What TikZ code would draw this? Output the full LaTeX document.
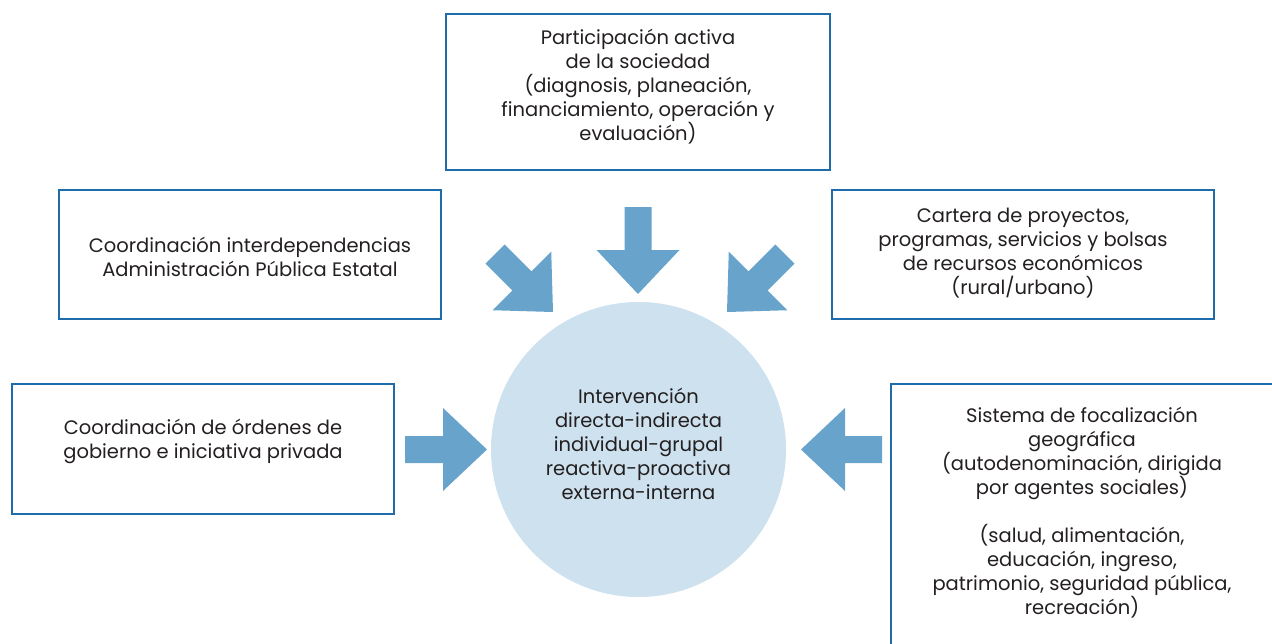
\documentclass[tikz,border=0pt]{standalone}
\usepackage{fontspec}
\setmainfont{Poppins}
\definecolor{boxblue}{RGB}{30,108,172}
\definecolor{arrowblue}{RGB}{104,163,204}
\definecolor{circblue}{RGB}{205,225,238}
\definecolor{txt}{RGB}{35,31,32}
\newcommand\blockarr[4]{%
  \fill[arrowblue, shift={(#1,#2)}, rotate=#3]
    (0,0) -- (-44,41.5) -- (-44,13.5) -- (-#4,13.5) -- (-#4,-13.5)
    -- (-44,-13.5) -- (-44,-41.5) -- cycle;}
\begin{document}
\begin{tikzpicture}[x=1pt,y=-1pt,
  box/.style={draw=boxblue, line width=2.5pt, rectangle, inner sep=0pt},
  lbl/.style={text=txt, align=center, inner sep=0pt,
    font=\fontsize{19.5}{24}\selectfont}]
\useasboundingbox (0,0) rectangle (1272,643);
\begin{scope}
\clip (0,0) rectangle (1272,643);
% boxes
\node[box, minimum width=384pt, minimum height=156pt] (top) at (638,92) {};
\node[box, minimum width=382pt, minimum height=129pt] (lt) at (250,254.5) {};
\node[box, minimum width=382pt, minimum height=129pt] (rt) at (1023,254.5) {};
\node[box, minimum width=382pt, minimum height=130pt] (lb) at (203,449) {};
\node[box, minimum width=420pt, minimum height=300pt] (rb) at (1101,534) {};
% circle
\node[circle, fill=circblue, minimum size=295pt, inner sep=0pt] (c) at (638.5,449.5) {};
% arrows
\blockarr{638}{294}{-90}{87}
\blockarr{553}{312}{-45}{82}
\blockarr{727}{312}{-135}{82}
\blockarr{487}{449.5}{0}{82}
\blockarr{801}{449.5}{180}{81}
% texts
\node[lbl] (ttop) at (638,87) {Participación activa\\de la sociedad\\(diagnosis, planeación,\\financiamiento, operación y\\evaluación)};
\node[lbl] (tlt) at (250,257) {Coordinación interdependencias\\Administración Pública Estatal};
\node[lbl] (trt) at (1023,253.5) {Cartera de proyectos,\\programas, servicios y bolsas\\de recursos económicos\\(rural/urbano)};
\node[lbl] (tlb) at (203,441) {Coordinación de órdenes de\\gobierno e iniciativa privada};
\node[lbl] (tc) at (638.5,443.5) {Intervención\\directa-indirecta\\individual-grupal\\reactiva-proactiva\\externa-interna};
\node[lbl] (trb) at (1082,513) {Sistema de focalización\\geográfica\\(autodenominación, dirigida\\por agentes sociales)\\[24pt](salud, alimentación,\\educación, ingreso,\\patrimonio, seguridad pública,\\recreación)};
\end{scope}
\end{tikzpicture}
\end{document}
